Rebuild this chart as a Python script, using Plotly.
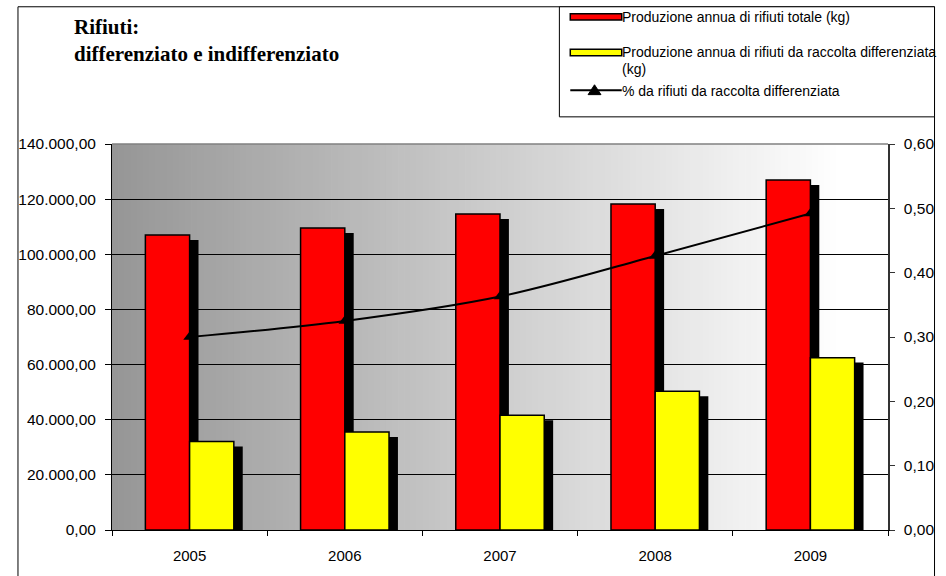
import plotly.graph_objects as go

years = ["2005", "2006", "2007", "2008", "2009"]
totale = [107000, 109500, 114600, 118200, 126900]
differenziata = [32100, 35500, 41600, 50300, 62500]
percentuale = [0.300, 0.325, 0.363, 0.426, 0.492]

name_tot = "Produzione annua di rifiuti totale (kg)"
name_diff = "Produzione annua di rifiuti da raccolta differenziata"
name_diff2 = "(kg)"
name_pct = "% da rifiuti da raccolta differenziata"

W, H = 946, 576
# plot area in page pixels
L, R, T, B = 112, 896, 144, 535
ML, MR, MT, MB = L, W - R, T, H - B
PW, PH = R - L, B - T


def px(x):
    return (x - L) / PW


def py(y):
    return (B - y) / PH


YMAX = 140000
bw = 0.285                   # bar width (category units)
sh_dx = 9 / (PW / 5)         # shadow shift right
sh_dy = 5 / PH * YMAX        # shadow shift down (value units)

FONT = "Liberation Sans, Arial, sans-serif"

fig = go.Figure()

# shadows
fig.add_trace(go.Bar(x=years, y=[v - sh_dy for v in totale], offset=-bw + sh_dx, width=bw,
                     marker=dict(color="black", line=dict(width=0)), showlegend=False, hoverinfo="skip"))
fig.add_trace(go.Bar(x=years, y=[v - sh_dy for v in differenziata], offset=sh_dx, width=bw,
                     marker=dict(color="black", line=dict(width=0)), showlegend=False, hoverinfo="skip"))
# bars
fig.add_trace(go.Bar(x=years, y=totale, offset=-bw, width=bw, name=name_tot,
                     marker=dict(color="#FF0000", line=dict(color="black", width=1.5)), showlegend=False))
fig.add_trace(go.Bar(x=years, y=differenziata, offset=0, width=bw, name=name_diff,
                     marker=dict(color="#FFFF00", line=dict(color="black", width=1.5)), showlegend=False))
# line
fig.add_trace(go.Scatter(x=years, y=percentuale, yaxis="y2", name=name_pct, mode="lines+markers",
                         line=dict(color="black", width=2, shape="spline", smoothing=1.0),
                         marker=dict(symbol="triangle-up", size=11, color="black"), showlegend=False))

shapes = []
# gradient background
N = 120
gx_end = px(850)
for i in range(N):
    t0 = i / N
    c = int(round(150 + (255 - 150) * (i + 0.5) / N))
    shapes.append(dict(type="rect", xref="paper", yref="paper", x0=gx_end * t0, x1=gx_end * (i + 1) / N + 0.001,
                       y0=0, y1=1, fillcolor=f"rgb({c},{c},{c})", line=dict(width=0), layer="below"))
shapes.append(dict(type="rect", xref="paper", yref="paper", x0=gx_end, x1=1, y0=0, y1=1,
                   fillcolor="white", line=dict(width=0), layer="below"))
# top border of plot area
shapes.append(dict(type="line", xref="paper", yref="paper", x0=0, x1=1, y0=1, y1=1,
                   line=dict(color="#808080", width=1.5)))
# outer frame
shapes.append(dict(type="rect", xref="paper", yref="paper", x0=px(17), x1=px(943), y0=py(600), y1=py(5),
                   line=dict(color="black", width=1), fillcolor="rgba(0,0,0,0)"))
# legend box
shapes.append(dict(type="rect", xref="paper", yref="paper", x0=px(564), x1=px(943), y0=py(116.5), y1=py(5),
                   line=dict(color="black", width=1), fillcolor="white"))
# legend swatches
shapes.append(dict(type="rect", xref="paper", yref="paper", x0=px(575), x1=px(627), y0=py(18.5), y1=py(12),
                   line=dict(color="black", width=1.5), fillcolor="#FF0000"))
shapes.append(dict(type="rect", xref="paper", yref="paper", x0=px(575), x1=px(627), y0=py(54.5), y1=py(48),
                   line=dict(color="black", width=1.5), fillcolor="#FFFF00"))
shapes.append(dict(type="line", xref="paper", yref="paper", x0=px(575), x1=px(627), y0=py(89.5), y1=py(89.5),
                   line=dict(color="black", width=2)))
shapes.append(dict(type="path", xref="paper", yref="paper",
                   path=f"M {px(593)},{py(94)} L {px(606)},{py(94)} L {px(599.5)},{py(84)} Z",
                   fillcolor="black", line=dict(color="black", width=1)))

TFONT = dict(family="Liberation Serif, Times New Roman, serif", size=21, color="black")
LFONT = dict(family=FONT, size=14, color="black")
annotations = [
    dict(text="<b>Rifiuti:</b>", x=px(72), y=py(25), xref="paper", yref="paper", xanchor="left", yanchor="middle",
         showarrow=False, font=TFONT),
    dict(text="<b>differenziato e indifferenziato</b>", x=px(72), y=py(53), xref="paper", yref="paper",
         xanchor="left", yanchor="middle", showarrow=False, font=TFONT),
    dict(text=name_tot, x=px(625), y=py(15), xref="paper", yref="paper", xanchor="left", yanchor="middle",
         showarrow=False, font=LFONT),
    dict(text=name_diff, x=px(625), y=py(51), xref="paper", yref="paper", xanchor="left", yanchor="middle",
         showarrow=False, font=LFONT),
    dict(text=name_diff2, x=px(625), y=py(68), xref="paper", yref="paper", xanchor="left", yanchor="middle",
         showarrow=False, font=LFONT),
    dict(text=name_pct, x=px(625), y=py(90), xref="paper", yref="paper", xanchor="left", yanchor="middle",
         showarrow=False, font=LFONT),
]

fig.update_layout(
    width=W, height=H,
    margin=dict(l=ML, r=MR, t=MT, b=MB, pad=0),
    paper_bgcolor="white", plot_bgcolor="white",
    separators=",.",
    barmode="overlay",
    showlegend=False,
    hovermode=False,
    font=dict(family=FONT, size=15, color="black"),
    shapes=shapes,
    annotations=annotations,
    xaxis=dict(type="category", range=[-0.5, 4.5], showgrid=False, showline=True, linecolor="black", linewidth=1,
               ticks="outside", tickson="boundaries", ticklen=5, tickcolor="black", ticklabelstandoff=12,
               tickfont=dict(size=15, family=FONT, color="black"), zeroline=False),
    yaxis=dict(range=[0, YMAX], dtick=20000, tickformat=",.2f", showgrid=True, gridcolor="black", gridwidth=1,
               showline=True, linecolor="black", linewidth=1, ticks="outside", ticklen=6, tickcolor="black",
               ticklabelstandoff=6, zeroline=False, tickfont=dict(size=15.5, family=FONT, color="black")),
    yaxis2=dict(range=[0, 0.6], dtick=0.1, tickformat=".2f", overlaying="y", side="right", showgrid=False,
                showline=True, linecolor="#333333", linewidth=1.5, ticks="outside", ticklen=5, tickcolor="#333333",
                ticklabelstandoff=6, zeroline=False, tickfont=dict(size=15.5, family=FONT, color="black")),
)

fig.write_html("out.html", config={"displayModeBar": False},
               post_script="document.body.style.margin='0';document.body.style.overflow='hidden';")
